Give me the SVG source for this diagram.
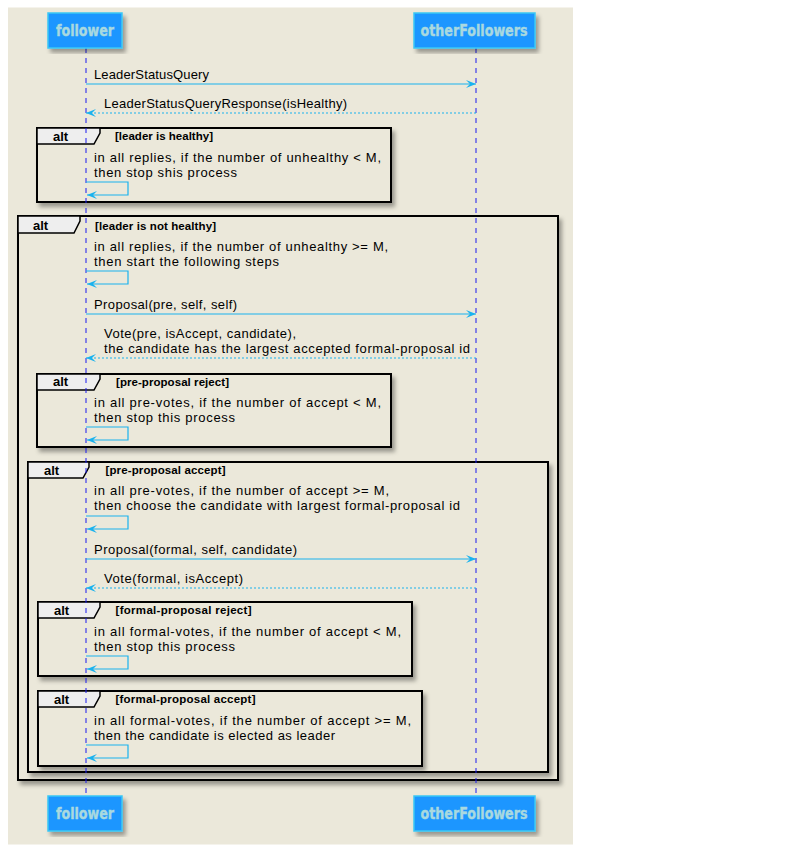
<svg xmlns="http://www.w3.org/2000/svg" width="800" height="868" viewBox="0 0 800 868">
<defs>
<filter id="sh" x="-5%" y="-5%" width="115%" height="120%">
<feDropShadow dx="3" dy="4" stdDeviation="2" flood-color="#000" flood-opacity="0.35"/>
</filter>
<marker id="ah" viewBox="0 0 10 8" refX="10" refY="4" markerWidth="10" markerHeight="8" markerUnits="userSpaceOnUse" orient="auto">
<polygon points="0,0 10,4 0,8 4,4" fill="#1AB2EE"/>
</marker>
<style>
.bg{fill:#EBE8DA}
.part rect{fill:#1E96FF;stroke:#38C8F5;stroke-width:1.5;filter:url(#sh)}
.part text{font-family:"DejaVu Sans Condensed","DejaVu Sans",sans-serif;font-weight:bold;font-size:16px;fill:#A9D9DF;stroke:#A9D9DF;stroke-width:0.4;text-anchor:middle}
.life{stroke:#1A1AF0;stroke-width:1;stroke-dasharray:5,5;fill:none}
.frame{fill:#EBE8DA;stroke:#000;stroke-width:2;filter:url(#sh)}
.tab{fill:#EEEEEE;stroke:#000;stroke-width:1.5}
.alt{font-family:"Liberation Sans",Arial,sans-serif;font-weight:bold;font-size:13px;fill:#000}
.cond{font-family:"Liberation Sans",Arial,sans-serif;font-weight:bold;font-size:11.5px;fill:#000}
.t{font-family:"Liberation Sans",Arial,sans-serif;font-size:13px;fill:#000}
.msg{stroke:#1AB2EE;stroke-width:1.2;fill:none;marker-end:url(#ah)}
.ret{stroke:#1AB2EE;stroke-width:1.2;fill:none;stroke-dasharray:2,2;marker-end:url(#ah)}
</style>
</defs>
<rect class="bg" x="8" y="7.5" width="565" height="837"/>

<g id="alt-healthy">
<rect class="frame" x="37" y="128" width="354" height="74"/>
<polygon class="tab" points="37,128 100,128 100,133 94,144 37,144"/>
<text class="alt" x="53" y="141">alt</text>
<text class="cond" x="115" y="140" textLength="98" lengthAdjust="spacing">[leader is healthy]</text>
</g>

<g id="alt-not-healthy">
<rect class="frame" x="18" y="216" width="540" height="564"/>
<polygon class="tab" points="18,216 80,216 80,221 74,233 18,233"/>
<text class="alt" x="33" y="230">alt</text>
<text class="cond" x="95" y="230" textLength="121" lengthAdjust="spacing">[leader is not healthy]</text>
</g>

<g id="alt-pre-reject">
<rect class="frame" x="37" y="374" width="354" height="73"/>
<polygon class="tab" points="37,374 100,374 100,379 94,390 37,390"/>
<text class="alt" x="53" y="386">alt</text>
<text class="cond" x="116" y="386" textLength="113" lengthAdjust="spacing">[pre-proposal reject]</text>
</g>

<g id="alt-pre-accept">
<rect class="frame" x="28" y="462" width="520" height="310"/>
<polygon class="tab" points="28,462 89,462 89,467 83,478 28,478"/>
<text class="alt" x="44" y="475">alt</text>
<text class="cond" x="105.5" y="474" textLength="120" lengthAdjust="spacing">[pre-proposal accept]</text>
</g>

<g id="alt-formal-reject">
<rect class="frame" x="38" y="602" width="374" height="74"/>
<polygon class="tab" points="38,602 100,602 100,607 94,618 38,618"/>
<text class="alt" x="54" y="615">alt</text>
<text class="cond" x="115.5" y="614" textLength="136" lengthAdjust="spacing">[formal-proposal reject]</text>
</g>

<g id="alt-formal-accept">
<rect class="frame" x="38" y="691" width="384" height="75"/>
<polygon class="tab" points="38,691 100,691 100,696 94,707 38,707"/>
<text class="alt" x="54" y="704">alt</text>
<text class="cond" x="115.5" y="703" textLength="140" lengthAdjust="spacing">[formal-proposal accept]</text>
</g>

<g id="lifelines">
<line class="life" x1="86" y1="48" x2="86" y2="796"/>
<line class="life" x1="476" y1="48" x2="476" y2="796"/>
</g>

<g id="follower" class="part">
<rect x="48" y="13" width="74" height="35"/>
<text x="85" y="36" textLength="58" lengthAdjust="spacingAndGlyphs">follower</text>
</g>
<g id="otherFollowers" class="part">
<rect x="414" y="13" width="121" height="35"/>
<text x="474" y="36" textLength="107" lengthAdjust="spacingAndGlyphs">otherFollowers</text>
</g>
<g id="follower-bottom" class="part">
<rect x="48" y="796" width="74" height="35"/>
<text x="85" y="819" textLength="58" lengthAdjust="spacingAndGlyphs">follower</text>
</g>
<g id="otherFollowers-bottom" class="part">
<rect x="414" y="796" width="121" height="35"/>
<text x="474" y="819" textLength="107" lengthAdjust="spacingAndGlyphs">otherFollowers</text>
</g>

<g id="connectors">
<line class="msg" x1="86" y1="84" x2="476" y2="84"/>
<line class="ret" x1="476" y1="113" x2="86" y2="113"/>
<path class="msg" d="M86,182 H128 V195 H87"/>
<path class="msg" d="M86,271 H128 V284 H87"/>
<line class="msg" x1="86" y1="314" x2="476" y2="314"/>
<line class="ret" x1="476" y1="358" x2="86" y2="358"/>
<path class="msg" d="M86,427 H128 V440 H87"/>
<path class="msg" d="M86,516 H128 V529 H87"/>
<line class="msg" x1="86" y1="559" x2="476" y2="559"/>
<line class="ret" x1="476" y1="588" x2="86" y2="588"/>
<path class="msg" d="M86,656 H128 V669 H87"/>
<path class="msg" d="M86,745 H128 V758 H87"/>
</g>

<g id="labels">
<text class="t" x="94" y="79" textLength="115" lengthAdjust="spacing">LeaderStatusQuery</text>
<text class="t" x="104" y="108" textLength="243" lengthAdjust="spacing">LeaderStatusQueryResponse(isHealthy)</text>
<text class="t" x="94" y="162" textLength="287" lengthAdjust="spacing">in all replies, if the number of unhealthy &lt; M,</text>
<text class="t" x="94" y="177" textLength="143" lengthAdjust="spacing">then stop shis process</text>
<text class="t" x="94" y="251" textLength="294" lengthAdjust="spacing">in all replies, if the number of unhealthy &gt;= M,</text>
<text class="t" x="94" y="266" textLength="185" lengthAdjust="spacing">then start the following steps</text>
<text class="t" x="94" y="309" textLength="143" lengthAdjust="spacing">Proposal(pre, self, self)</text>
<text class="t" x="104" y="338" textLength="192" lengthAdjust="spacing">Vote(pre, isAccept, candidate),</text>
<text class="t" x="104" y="353" textLength="366" lengthAdjust="spacing">the candidate has the largest accepted formal-proposal id</text>
<text class="t" x="94" y="407" textLength="287" lengthAdjust="spacing">in all pre-votes, if the number of accept &lt; M,</text>
<text class="t" x="94" y="422" textLength="141" lengthAdjust="spacing">then stop this process</text>
<text class="t" x="94" y="495" textLength="295" lengthAdjust="spacing">in all pre-votes, if the number of accept &gt;= M,</text>
<text class="t" x="94" y="510" textLength="366" lengthAdjust="spacing">then choose the candidate with largest formal-proposal id</text>
<text class="t" x="94" y="554" textLength="203" lengthAdjust="spacing">Proposal(formal, self, candidate)</text>
<text class="t" x="104" y="583" textLength="139" lengthAdjust="spacing">Vote(formal, isAccept)</text>
<text class="t" x="94" y="636" textLength="307" lengthAdjust="spacing">in all formal-votes, if the number of accept &lt; M,</text>
<text class="t" x="94" y="651" textLength="141" lengthAdjust="spacing">then stop this process</text>
<text class="t" x="94" y="725" textLength="317" lengthAdjust="spacing">in all formal-votes, if the number of accept &gt;= M,</text>
<text class="t" x="94" y="740" textLength="241" lengthAdjust="spacing">then the candidate is elected as leader</text>
</g>
</svg>
